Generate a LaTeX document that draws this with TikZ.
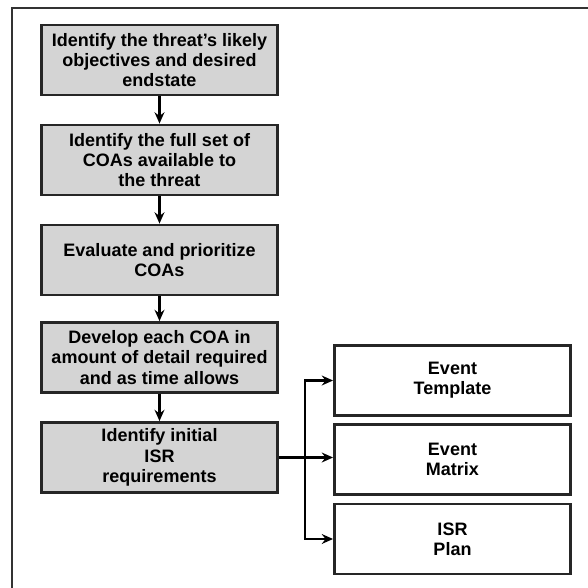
\documentclass[tikz,border=0pt]{standalone}
\usepackage{fontspec}
\setmainfont{Liberation Sans}
\usetikzlibrary{arrows.meta}

\begin{document}
\begin{tikzpicture}[x=0.025cm,y=-0.025cm,
  graybox/.style={draw=black!85,line width=2pt,fill=black!17,minimum width=5.9cm,minimum height=1.75cm,align=center,inner sep=0pt,font=\fontsize{12.8}{14.4}\selectfont\bfseries},
  whitebox/.style={graybox,fill=white},
  arr/.style={line width=1.8pt,-{Stealth[length=8pt,width=7pt]}}]
\useasboundingbox (0,0) rectangle (588,588);
\draw[line width=2pt,black!80] (588,8)--(12,8)--(12,588);
% left column
\node[graybox] (goal) at (159.5,60) {Identify the threat’s likely\\objectives and desired\\endstate};
\node[graybox] (coas) at (159.5,160) {Identify the full set of\\COAs available to\\the threat};
\node[graybox] (rank) at (159.5,260) {Evaluate and prioritize\\COAs};
\node[graybox] (dev) at (159.5,357.5) {Develop each COA in\\amount of detail required\\and as time allows};
\node[graybox] (isr) at (159.5,457.5) {Identify initial\\ISR\\requirements};
% products
\node[whitebox] (tmpl) at (452.5,380.5) {Event\\Template};
\node[whitebox] (mtx) at (452.5,459.5) {Event\\Matrix};
\node[whitebox] (plan) at (452.5,539) {ISR\\Plan};
\draw[arr] (goal)--(coas);
\draw[arr] (coas)--(rank);
\draw[arr] (rank)--(dev);
\draw[arr] (dev)--(isr);
\coordinate (split) at (305,457.5);
\draw[arr] (isr.east)--(split)--(split -| mtx.west);
\draw[arr] (split)|-(tmpl.west);
\draw[arr] (split)|-(plan.west);
\end{tikzpicture}
\end{document}
